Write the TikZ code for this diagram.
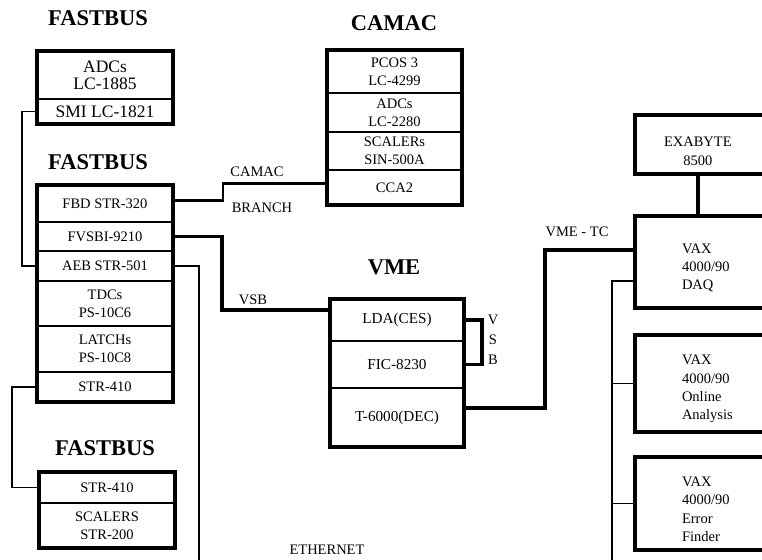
\documentclass[tikz,border=0pt]{standalone}
\usepackage{fontspec}
\setmainfont{Liberation Serif}
\usepackage{tikz}
\usetikzlibrary{positioning, calc}
\newcommand{\cellfont}{\fontsize{14.5}{18}\selectfont}
\newcommand{\bigcellfont}{\fontsize{17.5}{17}\selectfont}
\newcommand{\vaxfont}{\fontsize{14.5}{18.3}\selectfont}
\newcommand{\titlefont}{\fontsize{22.5}{25}\selectfont\bfseries}
\tikzstyle{cell} = [draw, line width=1.2pt, minimum width=136pt, inner sep=1pt, outer sep=0pt, align=center, font=\cellfont]
\tikzstyle{frame} = [line width=4pt]
\tikzstyle{titletext} = [font=\titlefont]
\tikzstyle{lbl} = [font=\cellfont, inner sep=1pt]
\tikzstyle{vaxbox} = [draw, line width=4pt, anchor=west, outer sep=0pt, text width=80pt, inner xsep=47pt, align=left, font=\vaxfont, execute at begin node={\rule{0pt}{21pt}}]
\tikzstyle{thinwire} = [line width=1.5pt]
\tikzstyle{branchwire} = [line width=2.5pt]
\tikzstyle{thickwire} = [line width=3.5pt]

\begin{document}
\begin{tikzpicture}[x=1pt, y=-1pt]
    \useasboundingbox (0,0) rectangle (762,559);
    \clip (0,0) rectangle (762,559);

    % Titulos
    \node[titletext] at (98,18) {FASTBUS};
    \node[titletext] at (98,162) {FASTBUS};
    \node[titletext] at (105,448) {FASTBUS};
    \node[titletext] at (394,23) {CAMAC};
    \node[titletext] at (394,267) {VME};

    % FASTBUS superior
    \node[cell, font=\bigcellfont, minimum height=48pt] (adc1) at (105,75) {ADCs\\LC-1885};
    \node[cell, font=\bigcellfont, minimum height=25pt, below=0pt of adc1] (smi) {SMI LC-1821};
    \draw[frame] (adc1.north west) rectangle (smi.south east);

    % FASTBUS central
    \node[cell, minimum height=37pt] (fbd) at (105,203.5) {FBD STR-320};
    \node[cell, minimum height=29pt, below=0pt of fbd] (fvsbi) {FVSBI-9210};
    \node[cell, minimum height=30pt, below=0pt of fvsbi] (aeb) {AEB STR-501};
    \node[cell, minimum height=45pt, below=0pt of aeb] (tdc) {TDCs\\PS-10C6};
    \node[cell, minimum height=46pt, below=0pt of tdc] (latch) {LATCHs\\PS-10C8};
    \node[cell, minimum height=30pt, below=0pt of latch] (strA) {STR-410};
    \draw[frame] (fbd.north west) rectangle (strA.south east);

    % FASTBUS inferior
    \node[cell, minimum height=31pt] (strB) at (107,487.5) {STR-410};
    \node[cell, minimum height=45pt, below=0pt of strB] (scal) {SCALERS\\STR-200};
    \draw[frame] (strB.north west) rectangle (scal.south east);

    % CAMAC
    \node[cell, minimum width=135pt, minimum height=43pt] (pcos) at (394.5,71.5) {PCOS 3\\LC-4299};
    \node[cell, minimum width=135pt, minimum height=39pt, below=0pt of pcos] (adc2) {ADCs\\LC-2280};
    \node[cell, minimum width=135pt, minimum height=38pt, below=0pt of adc2] (scalr) {SCALERs\\SIN-500A};
    \node[cell, minimum width=135pt, minimum height=35pt, below=0pt of scalr] (cca) {CCA2};
    \draw[frame] (pcos.north west) rectangle (cca.south east);

    % VME
    \node[cell, font=\fontsize{15.2}{18}\selectfont, minimum width=134pt, minimum height=42pt] (lda) at (397,320) {LDA(CES)};
    \node[cell, font=\fontsize{15.2}{18}\selectfont, minimum width=134pt, minimum height=47pt, below=0pt of lda] (fic) {FIC-8230};
    \node[cell, font=\fontsize{15.2}{18}\selectfont, minimum width=134pt, minimum height=59pt, below=0pt of fic] (tdec) {T-6000(DEC)};
    \draw[frame] (lda.north west) rectangle (tdec.south east);

    % Cinta y VAX
    \node[vaxbox, inner xsep=29pt, text width=110pt, minimum height=57pt,
          execute at begin node={}] (exa) at (635,144.5)
        {\begin{tabular}{@{}c@{}}\rule{0pt}{28.5pt}EXABYTE\\8500\end{tabular}};
    \node[vaxbox, minimum height=92pt] (daq) at (635,262) {VAX\\4000/90\\DAQ};
    \node[vaxbox, minimum height=97pt] (online) at (635,383.5) {VAX\\4000/90\\Online\\Analysis};
    \node[vaxbox, minimum height=93pt] (error) at (635,503.5) {VAX\\4000/90\\Error\\Finder};

    % Extremos de la ETHERNET
    \coordinate (ethL) at (199,560);
    \coordinate (ethR) at (612,560);

    % Conexiones
    \draw[thinwire] (smi.west) -- ++(-15,0) |- (aeb.west);
    \draw[thinwire] (strA.west) -- ++(-25,0) |- (strB.west);
    \draw[branchwire] ([yshift=3pt]fbd.east) -- ++(50,0) |- ([yshift=4pt]cca.west);
    \draw[thickwire] (fvsbi.east) -- ++(49,0) |- ([yshift=10pt]lda.west);
    \draw[thickwire] (lda.east) -- ++(18,0) |- (fic.east);
    \draw[thickwire] ([yshift=9.5pt]tdec.east) -- ++(81,0) |- ([yshift=12pt]daq.west);
    \draw[thickwire] ([xshift=63pt]exa.south west) -- ([xshift=63pt]exa.south west |- daq.north);
    \draw[thinwire] (aeb.east) -| (ethL);
    \draw[thinwire] ([yshift=-19pt]daq.west) -| (ethR);
    \draw[thinwire] (online.west) -- (online.west -| ethR);
    \draw[thinwire] (error.west) -- (error.west -| ethR);

    % Etiquetas
    \node[lbl] (camaclbl) at (257,172) {CAMAC};
    \node[lbl] (branchlbl) at (262,208) {BRANCH};
    \node[lbl] (vsblbl) at (253,300) {VSB};
    \node[lbl] (vmetclbl) at (577,232) {VME - TC};
    \node[lbl, align=center, font=\fontsize{14.5}{20}\selectfont] (vsbloop) at (493,340) {V\\S\\B};
    \node[lbl] (ethlbl) at (327,550) {ETHERNET};
\end{tikzpicture}
\end{document}
